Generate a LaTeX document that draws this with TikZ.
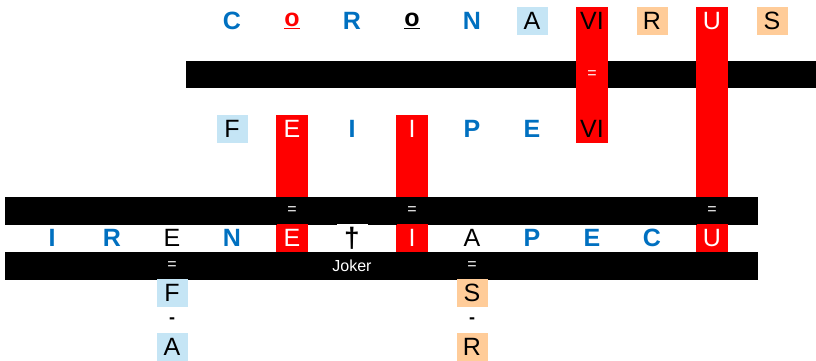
\documentclass[tikz,border=0pt]{standalone}
\usepackage{fontspec}
\setmainfont{Liberation Sans}
\usetikzlibrary{positioning}

\definecolor{cvblue}{HTML}{0070C0}
\definecolor{lightbox}{HTML}{C5E5F5}
\definecolor{peach}{HTML}{FFCC99}

\pgfdeclarelayer{back}
\pgfdeclarelayer{mid}
\pgfsetlayers{back,mid,main}

\tikzset{
  cell/.style={minimum width=31pt,minimum height=28pt,inner sep=0pt,
    font=\fontsize{25}{25}\selectfont},
  blueletter/.style={cell,text=cvblue,font=\fontsize{25}{25}\selectfont\bfseries},
  bluecell/.style={cell,fill=lightbox},
  peachcell/.style={cell,fill=peach},
  redcell/.style={cell,fill=red,text=white},
  eqsign/.style={inner sep=0pt,text=white,font=\fontsize{16}{16}\selectfont},
  dashsign/.style={inner sep=0pt,font=\fontsize{18}{18}\selectfont\bfseries}
}

\begin{document}
\begin{tikzpicture}[x=1pt,y=-1pt]
\useasboundingbox (0,0) rectangle (816,361);

% CORONAVIRUS
\node[blueletter] (co1) at (232,21) {C};
\node[cell,text=red,font=\fontsize{25}{25}\selectfont\bfseries] (co2) at (292,21) {\underline{o}};
\node[blueletter] (co3) at (352,21) {R};
\node[cell,font=\fontsize{25}{25}\selectfont\bfseries] (co4) at (412,21) {\underline{o}};
\node[blueletter] (co5) at (472,21) {N};
\node[bluecell] (co6) at (532,21) {A};
\node[cell,fill=red] (co7) at (592,21) {VI};
\node[peachcell] (co8) at (652,21) {R};
\node[redcell] (co9) at (712,21) {U};
\node[peachcell] (co10) at (772,21) {S};

% FEIIPEVI
\node[bluecell] (fe1) at (232,129) {F};
\node[redcell] (fe2) at (292,129) {E};
\node[blueletter] (fe3) at (352,129) {I};
\node[redcell] (fe4) at (412,129) {I};
\node[blueletter] (fe5) at (472,129) {P};
\node[blueletter] (fe6) at (532,129) {E};
\node[cell,fill=red] (fe7) at (592,129) {VI};

% IRENE + IAPECU
\node[blueletter] (ir1) at (52,238) {I};
\node[blueletter] (ir2) at (112,238) {R};
\node[cell] (ir3) at (172,238) {E};
\node[blueletter] (ir4) at (232,238) {N};
\node[redcell] (ir5) at (292,238) {E};
\node[cell,fill=white,font=\fontsize{28}{28}\selectfont\bfseries] (ir6) at (352,238) {†};
\node[redcell] (ir7) at (412,238) {I};
\node[cell] (ir8) at (472,238) {A};
\node[blueletter] (ir9) at (532,238) {P};
\node[blueletter] (ir10) at (592,238) {E};
\node[blueletter] (ir11) at (652,238) {C};
\node[redcell] (ir12) at (712,238) {U};

% FA and SR
\node[bluecell] (fa1) at (172,292.5) {F};
\node[dashsign] (fa2) at (172,321) {-};
\node[bluecell] (fa3) at (172,347) {A};
\node[peachcell] (sr1) at (472,292.5) {S};
\node[dashsign] (sr2) at (472,321) {-};
\node[peachcell] (sr3) at (472,347) {R};

% signs on the bars
\node[eqsign] (eq1) at (592,75) {=};
\foreach \x in {292,412,712}
  \node[eqsign] at (\x,211) {=};
\node[eqsign] (eq5) at (172,266) {=};
\node[eqsign] (joker) at (352,266) {Joker};
\node[eqsign] (eq6) at (472,266) {=};

\begin{pgfonlayer}{back}
\fill[black] (186,61) rectangle (816,88);
\fill[red] (co7.north west) rectangle (fe7.south east);
\fill[red] (co9.north west) rectangle (ir12.south east);
\fill[red] (fe2.north west) rectangle (ir5.south east);
\fill[red] (fe4.north west) rectangle (ir7.south east);
\end{pgfonlayer}

\begin{pgfonlayer}{mid}
\fill[black] (5,197) rectangle (758,225);
\fill[black] (5,252) rectangle (758,280);
\end{pgfonlayer}
\end{tikzpicture}
\end{document}
